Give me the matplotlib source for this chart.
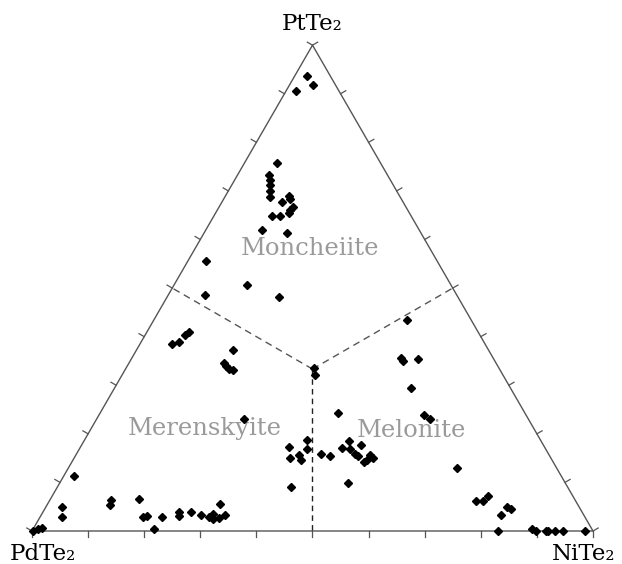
import numpy as np
import matplotlib
matplotlib.use("Agg")
import matplotlib.pyplot as plt

# compositions in mol% (PdTe2 = 100 - PtTe2 - NiTe2)
pt = [93.6, 91.8, 90.6, 75.8, 73.2, 72.2, 71.2, 70.0, 68.7, 69.0,
      68.3, 67.8, 66.7, 66.1, 65.5, 64.8, 64.8, 61.9, 61.4, 55.5,
      50.6, 48.6, 48.2, 38.5, 38.9, 40.3, 41.0, 37.3, 34.6, 34.0,
      33.3, 33.1, 33.5, 32.2, 43.4, 35.6, 35.0, 35.3, 29.4, 24.3,
      23.8, 23.0, 23.0, 17.2, 18.7, 16.8, 15.1, 15.6, 14.6, 15.8,
      15.5, 17.1, 18.6, 16.9, 17.8, 15.8, 15.4, 15.6, 15.1, 14.6,
      14.1, 9.0, 9.8, 13.0, 11.3, 4.9, 2.8, 6.3, 5.4, 6.5,
      2.8, 3.1, 0.5, 2.8, 3.9, 3.0, 4.0, 3.2, 2.8, 3.4,
      2.5, 2.6, 5.5, 3.3, 0.1, 0.4, 0.6, 6.2, 6.2, 7.3,
      3.3, 5.0, 4.5, 0.0, 0.4, 0.0, 0.0, 0.0, 0.0, 0.0, 0.0]
ni = [2.2, 4.2, 1.8, 5.8, 5.7, 6.3, 6.8, 7.4, 8.1, 11.4,
      11.9, 10.7, 13.1, 13.0, 13.0, 10.3, 11.8, 10.1, 14.8, 3.3,
      13.0, 6.6, 19.9, 5.7, 6.8, 7.1, 7.4, 17.1, 17.0, 17.6,
      18.4, 19.3, 33.5, 34.4, 45.2, 48.0, 48.7, 51.2, 52.9, 42.4,
      57.9, 59.5, 26.3, 37.2, 39.6, 40.7, 38.5, 39.8, 40.7, 43.6,
      45.4, 46.7, 47.2, 48.2, 49.7, 49.7, 50.4, 52.4, 53.3, 52.5,
      52.2, 41.6, 51.4, 69.3, 1.8, 2.9, 4.0, 11.0, 11.2, 15.9,
      18.4, 19.0, 21.5, 21.8, 24.3, 24.7, 26.4, 28.6, 30.2, 30.5,
      31.0, 32.1, 30.8, 32.7, 0.1, 0.9, 1.4, 76.0, 77.3, 77.6,
      81.9, 82.2, 83.1, 83.1, 88.9, 89.8, 91.6, 92.0, 93.2, 94.7, 98.5]
pd = [100 - a - b for a, b in zip(pt, ni)]

vertex_labels = ["PdTe\u2082", "NiTe\u2082", "PtTe\u2082"]
field_names = ["Moncheiite", "Merenskyite", "Melonite"]

H = np.sqrt(3) / 2


def to_xy(pt_, ni_):
    pt_ = np.asarray(pt_) / 100.0
    ni_ = np.asarray(ni_) / 100.0
    return ni_ + pt_ / 2, pt_ * H


fig = plt.figure(figsize=(6.22, 5.64), dpi=100)
ax = fig.add_axes([0, 0, 1, 1])
ax.axis("off")
# triangle side = 561 px, PdTe2 corner at pixel (32, 531)
side, x0, y0 = 561.0, 32.0, 531.0
ax.set_xlim(-x0 / side, (622 - x0) / side)
ax.set_ylim(-(564 - y0) / side, y0 / side)

# frame
ax.plot([0, 1, 0.5, 0], [0, 0, H, 0], color="#555555", lw=1.0, zorder=2)

# ticks every 10 %, pointing outwards
tl = 6 / side
for i in range(11):
    f = i / 10
    ax.plot([f, f], [0, -tl], color="#555555", lw=0.9)
    px, py = 1 - f / 2, f * H
    ax.plot([px, px + tl * H], [py, py + tl * 0.5], color="#555555", lw=0.9)
    px, py = f / 2, f * H
    ax.plot([px, px - tl * H], [py, py + tl * 0.5], color="#555555", lw=0.9)

# field boundaries
cx, cy = 0.5, H / 3
for ex, ey in [(0.25, H / 2), (0.75, H / 2)]:
    ax.plot([cx, ex], [cy, ey], color="#555555", lw=1.0, dashes=(5, 3.5))
ax.plot([cx, 0.5], [cy, 0], color="#222222", lw=1.0, dashes=(4, 3))

x, y = to_xy(pt, ni)
ax.plot(x, y, "D", color="black", markersize=4.2, zorder=4)

serif = "DejaVu Serif"
ax.text(0.02, -0.0517, vertex_labels[0], ha="center", va="baseline",
        fontsize=16.5, family=serif)
ax.text(0.984, -0.0517, vertex_labels[1], ha="center", va="baseline",
        fontsize=16.5, family=serif)
ax.text(0.5, 0.893, vertex_labels[2], ha="center", va="baseline",
        fontsize=16.5, family=serif)

gray = "#9a9a9a"
ax.text(0.4947, 0.492, field_names[0], ha="center", va="baseline",
        fontsize=17.5, family=serif, color=gray)
ax.text(0.3075, 0.171, field_names[1], ha="center", va="baseline",
        fontsize=17.5, family=serif, color=gray)
ax.text(0.677, 0.1676, field_names[2], ha="center", va="baseline",
        fontsize=17.5, family=serif, color=gray)

fig.savefig("out.png", dpi=100, facecolor="white")
